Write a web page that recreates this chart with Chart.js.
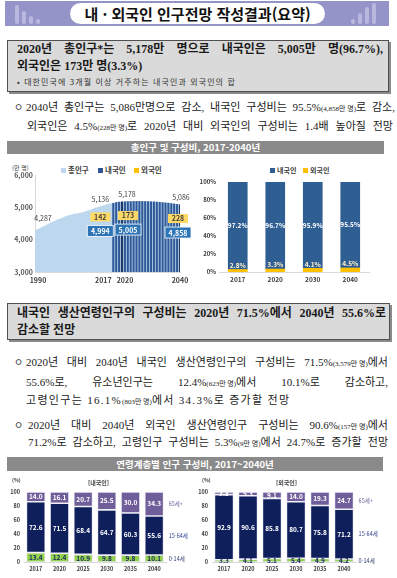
<!DOCTYPE html>
<html lang="ko">
<head>
<meta charset="utf-8">
<script src="https://cdn.jsdelivr.net/npm/chart.js@4"></script>
<style>
  body { margin:0; width:397px; height:578px; position:relative; overflow:hidden; background:#fff;
    font-family:"Liberation Serif","Noto Sans CJK KR",serif; color:#1a1a1a; }
  .abs { position:absolute; }
  .jl { position:absolute; text-align:justify; text-align-last:justify; white-space:normal; }
  .band { left:5px; top:1px; width:384px; height:25px; background:#9494c8; }
  .deco { position:absolute; width:4px; border-radius:2px; background:#b8b8de; bottom:2px; }
  .pill { left:70px; top:3px; width:255px; height:21px; border-radius:11px; background:#fff;
    font:bold 15px "Noto Sans CJK KR"; line-height:21px; text-align:center; color:#111; }
  .box { background:#dadada; border:1px solid #505050; box-shadow:2px 2px 0 #8a8a8a; }
  .bold { font-weight:bold; font-size:12px; line-height:16px; }
  .txt { font-size:11px; line-height:16px; }
  .sm { font-size:7px; display:inline-block; }
  .bul { font:10px "Noto Sans CJK KR"; line-height:16px; color:#333; }
  .hdr { background:#8a8a8a; color:#fff; font:bold 9.5px "Noto Sans CJK KR"; text-align:center; }
  .lg { position:absolute; font:bold 7.5px "Noto Sans CJK KR"; color:#404040; line-height:10px; white-space:nowrap; }
  .lg i { display:inline-block; width:5px; height:5px; margin-right:2px; vertical-align:0; }
  .note { position:absolute; font:bold 6px "Noto Sans CJK KR"; color:#404040; white-space:nowrap; }
  canvas { position:absolute; }
</style>
</head>
<body>
<div class="abs band">
  <div class="deco" style="left:10px;height:19px"></div>
  <div class="deco" style="left:17px;height:13px"></div>
  <div class="deco" style="left:24px;height:8px"></div>
  <div class="deco" style="left:31px;height:5px"></div>
  <div class="deco" style="left:346px;height:5px"></div>
  <div class="deco" style="left:353px;height:11px"></div>
  <div class="deco" style="left:360px;height:17px"></div>
  <div class="deco" style="left:367px;height:21px"></div>
</div>
<div class="abs pill">내 · 외국인 인구전망 작성결과(요약)</div>

<div class="abs box" style="left:7px;top:40px;width:380px;height:50px"></div>
<div class="jl bold" style="left:17px;top:41px;width:366px">2020년 총인구*는 5,178만 명으로 내국인은 5,005만 명(96.7%),</div>
<div class="abs bold" style="left:17px;top:58px">외국인은 173만 명(3.3%)</div>
<div class="abs" style="left:17px;top:77px;font:8px 'Noto Sans CJK KR';line-height:10px;letter-spacing:1.1px;color:#333">• 대한민국에 3개월 이상 거주하는 내국인과 외국인의 합</div>

<div class="abs bul" style="left:14px;top:99px">ㅇ</div>
<div class="jl txt" style="left:26px;top:99px;width:369px">2040년 총인구는 5,086만명으로 감소, 내국인 구성비는 95.5%<span class="sm">(4,858만 명)</span>로 감소,</div>
<div class="jl txt" style="left:27px;top:118px;width:366px">외국인은 4.5%<span class="sm">(228만 명)</span>로 2020년 대비 외국인의 구성비는 1.4배 높아질 전망</div>

<div class="abs hdr" style="left:7px;top:141px;width:377px;height:13px;line-height:13px">총인구 및 구성비, 2017-2040년</div>

<div class="note" style="left:12px;top:163px;font-weight:normal">(만 명)</div>
<div class="lg" style="left:61px;top:165px"><i style="background:#bdd7ee"></i>총인구</div>
<div class="lg" style="left:98px;top:165px"><i style="background:#2f5597"></i>내국인</div>
<div class="lg" style="left:134px;top:165px"><i style="background:#ffc000"></i>외국인</div>
<div class="lg" style="left:270px;top:165px;font-size:7px"><i style="background:#2f5e93"></i>내국인</div>
<div class="lg" style="left:303px;top:165px;font-size:7px"><i style="background:#ffc000"></i>외국인</div>

<canvas id="popChart" width="195" height="125" style="left:0;top:160px"></canvas>
<canvas id="shareChart" width="202" height="125" style="left:195px;top:160px"></canvas>

<div class="abs box" style="left:7px;top:303px;width:381px;height:35px"></div>
<div class="jl bold" style="left:17px;top:305px;width:369px">내국인 생산연령인구의 구성비는 2020년 71.5%에서 2040년 55.6%로</div>
<div class="abs bold" style="left:17px;top:322px">감소할 전망</div>

<div class="abs bul" style="left:14px;top:354px">ㅇ</div>
<div class="jl txt" style="left:26px;top:354px;width:362px">2020년 대비 2040년 내국인 생산연령인구의 구성비는 71.5%<span class="sm">(3,579만 명)</span>에서</div>
<div class="jl txt" style="left:26px;top:374px;width:362px">55.6%로, 유소년인구는 12.4%<span class="sm">(623만 명)</span>에서 10.1%로 감소하고,</div>
<div class="abs txt" style="left:26px;top:392px;letter-spacing:1.3px;white-space:nowrap">고령인구는 16.1%<span class="sm" style="letter-spacing:0">(803만 명)</span>에서 34.3%로 증가할 전망</div>
<div class="abs bul" style="left:14px;top:417px">ㅇ</div>
<div class="jl txt" style="left:28px;top:417px;width:360px">2020년 대비 2040년 외국인 생산연령인구 구성비는 90.6%<span class="sm">(157만 명)</span>에서</div>
<div class="jl txt" style="left:28px;top:434px;width:360px">71.2%로 감소하고, 고령인구 구성비는 5.3%<span class="sm">(9만 명)</span>에서 24.7%로 증가할 전망</div>

<div class="abs hdr" style="left:7px;top:457px;width:376px;height:14px;line-height:14px">연령계층별 인구 구성비, 2017~2040년</div>

<canvas id="korAge" width="197" height="103" style="left:0;top:475px"></canvas>
<canvas id="forAge" width="200" height="103" style="left:197px;top:475px"></canvas>
<div class="note" style="left:12px;top:476px;font-size:5px">(%)</div>
<div class="note" style="left:88px;top:478px">[내국인]</div>
<div class="note" style="left:202px;top:476px;font-size:5px">(%)</div>
<div class="note" style="left:276px;top:478px">[외국인]</div>

<script>
// 총인구 (만 명), 1990~2040
const years = Array.from({ length: 51 }, (_, i) => String(1990 + i));
const totalPop = [4287, 4330, 4375, 4420, 4464, 4509, 4552, 4595, 4629, 4662,
  4701, 4737, 4764, 4789, 4808, 4818, 4837, 4860, 4895, 4918,
  4955, 4994, 5020, 5043, 5075, 5101, 5122, 5136, 5161, 5171,
  5178, 5183, 5187, 5190, 5192, 5193, 5193, 5192, 5190, 5187,
  5183, 5178, 5172, 5165, 5157, 5148, 5138, 5127, 5114, 5101, 5086];
// 내국인 / 외국인, 2017~2040
const barStart = '2017';
const domesticPop = [4994, 5006, 5003, 5005, 5011, 5012, 5010, 5007, 5003, 5000, 4996, 4991,
  4985, 4978, 4971, 4962, 4953, 4943, 4932, 4919, 4906, 4891, 4875, 4858];
const foreignPop = [142, 155, 168, 173, 172, 175, 180, 185, 190, 193, 196, 199,
  202, 205, 207, 210, 212, 214, 216, 219, 221, 223, 226, 228];
const popTickYears = ['1990', '2017', '2020', '2040'];

// 구성비 (%)
const shareYears = ['2017', '2020', '2030', '2040'];
const domesticShare = [97.2, 96.7, 95.9, 95.5];
const foreignShare = [2.8, 3.3, 4.1, 4.5];

// 연령계층별 구성비 (%)
const ageYears = ['2017', '2020', '2025', '2030', '2035', '2040'];
const korChild = [13.4, 12.4, 10.9, 9.8, 9.8, 10.1];
const korWork = [72.6, 71.5, 68.4, 64.7, 60.3, 55.6];
const korOld = [14.0, 16.1, 20.7, 25.5, 30.0, 34.3];
const forChild = [3.3, 4.1, 5.1, 5.4, 4.9, 4.2];
const forWork = [92.9, 90.6, 85.8, 80.7, 75.8, 71.2];
const forOld = [3.8, 5.3, 9.1, 14.0, 19.3, 24.7];
const ageGroups = ['0-14세', '15-64세', '65세+'];

Chart.defaults.font.family = "'Noto Sans CJK KR', 'Noto Sans', sans-serif";
Chart.defaults.animation = false;
Chart.defaults.responsive = false;
Chart.defaults.plugins.legend.display = false;
Chart.defaults.plugins.tooltip.enabled = false;

const pad = new Array(years.indexOf(barStart)).fill(null);
const fmt = v => v.toLocaleString('en-US');

// 총인구 그래프 라벨
const popLabels = {
  id: 'popLabels',
  afterDatasetsDraw(chart) {
    const { ctx, scales: { x, y }, chartArea } = chart;
    ctx.save();
    ctx.textAlign = 'center';
    ctx.textBaseline = 'middle';
    // x축 연도
    ctx.font = "bold 7px 'Noto Sans CJK KR'";
    ctx.fillStyle = '#404040';
    const tickDx = { '1990': 3, '2017': -10, '2020': 3, '2040': 0 };
    popTickYears.forEach(yr => {
      ctx.fillText(yr, x.getPixelForValue(years.indexOf(yr)) + tickDx[yr], chartArea.bottom + 8);
    });
    // 총인구 값
    ctx.font = "7px 'Noto Sans CJK KR'";
    const totDx = { '1990': 8, '2017': -13, '2020': 5, '2040': 1 };
    const totDy = { '1990': -12, '2017': -4, '2020': -7, '2040': -7 };
    popTickYears.forEach(yr => {
      const i = years.indexOf(yr);
      ctx.fillText(fmt(totalPop[i]), x.getPixelForValue(i) + totDx[yr], y.getPixelForValue(totalPop[i]) + totDy[yr]);
    });
    // 내국인/외국인 박스
    const boxDx = { '2017': -13, '2020': 6, '2040': -2 };
    ['2017', '2020', '2040'].forEach(yr => {
      const i = years.indexOf(yr), j = i - pad.length;
      const cx = x.getPixelForValue(i) + boxDx[yr];
      const top = y.getPixelForValue(totalPop[i]);
      ctx.font = "bold 7px 'Noto Sans CJK KR'";
      ctx.fillStyle = '#ffd966';
      ctx.fillRect(cx - 10, top + 9.5, 20, 9);
      ctx.fillStyle = '#404040';
      ctx.fillText(String(foreignPop[j]), cx, top + 14);
      ctx.fillStyle = '#2e75b6';
      ctx.fillRect(cx - 13, top + 22.5, 26, 11);
      ctx.strokeStyle = '#fff';
      ctx.lineWidth = 0.8;
      ctx.strokeRect(cx - 13, top + 22.5, 26, 11);
      ctx.fillStyle = '#fff';
      ctx.fillText(fmt(domesticPop[j]), cx, top + 28.5);
    });
    ctx.restore();
  }
};

new Chart(document.getElementById('popChart'), {
  type: 'bar',
  data: {
    labels: years,
    datasets: [
      { type: 'line', label: '총인구', data: totalPop, fill: 'start', backgroundColor: '#bdd7ee',
        borderWidth: 0, pointRadius: 0, tension: 0.3, order: 3, stack: 'total' },
      { label: '내국인', data: pad.concat(domesticPop), order: 2, stack: 'bar',
        backgroundColor: c => ['2020', '2040'].includes(years[c.index]) ? '#1f3864' : '#2f5a97',
        barPercentage: 0.72, categoryPercentage: 1 },
      { label: '외국인', data: pad.concat(foreignPop), order: 1, stack: 'bar',
        backgroundColor: '#ffc000', barPercentage: 0.72, categoryPercentage: 1 }
    ]
  },
  options: {
    layout: { padding: { top: 15, right: 15, left: 0, bottom: 0 } },
    scales: {
      x: { stacked: true, offset: false, grid: { display: false, drawTicks: false }, ticks: { display: false },
        border: { color: '#d9d9d9' }, afterFit(s) { s.height = 13; } },
      y: { stacked: true, min: 3000, max: 6000, grid: { display: false, drawTicks: false }, border: { color: '#d9d9d9' },
        ticks: { stepSize: 1000, callback: fmt, font: { size: 7, weight: 'bold' }, color: '#595959', padding: 2 },
        afterFit(s) { s.width = 35; } }
    }
  },
  plugins: [popLabels]
});

// 구성비 그래프
const shareLabels = {
  id: 'shareLabels',
  afterDatasetsDraw(chart) {
    const { ctx } = chart;
    ctx.save();
    ctx.textAlign = 'center';
    ctx.textBaseline = 'middle';
    ctx.font = "bold 6.5px 'Noto Sans CJK KR'";
    chart.getDatasetMeta(1).data.forEach((el, i) => {
      ctx.fillStyle = '#fff';
      ctx.fillText(domesticShare[i].toFixed(1) + '%', el.x, (el.y + el.base) / 2);
    });
    chart.getDatasetMeta(0).data.forEach((el, i) => {
      ctx.fillStyle = '#fff2cc';
      ctx.fillText(foreignShare[i].toFixed(1) + '%', el.x, el.y - 4);
    });
    ctx.restore();
  }
};

new Chart(document.getElementById('shareChart'), {
  type: 'bar',
  data: {
    labels: shareYears,
    datasets: [
      { label: '외국인', data: foreignShare, backgroundColor: '#ffc000', barThickness: 19 },
      { label: '내국인', data: domesticShare, backgroundColor: '#2f5e93', barThickness: 19 }
    ]
  },
  options: {
    layout: { padding: { top: 22, right: 28, left: 0, bottom: 0 } },
    scales: {
      x: { stacked: true, grid: { display: false, drawTicks: false }, border: { color: '#d9d9d9' },
        ticks: { font: { size: 6.5, weight: 'bold' }, color: '#404040', padding: 4 },
        afterFit(s) { s.height = 13; } },
      y: { stacked: true, min: 0, max: 100, grid: { display: false, drawTicks: false }, border: { display: false },
        ticks: { stepSize: 20, callback: v => v + '%', font: { size: 6, weight: 'bold' }, color: '#404040', padding: 3 },
        afterFit(s) { s.width = 24; } }
    }
  },
  plugins: [shareLabels]
});

// 연령계층별 그래프
const ageColors = ['#92d050', '#0f1f5c', '#6f5e9a'];
const sideColors = ['#2b3a6e', '#2b3a8a', '#6f5e9a'];
function ageLabels(id) {
  return {
    id: id,
    afterDatasetsDraw(chart) {
      const { ctx } = chart;
      ctx.save();
      ctx.textBaseline = 'middle';
      chart.data.datasets.forEach((ds, d) => {
        const els = chart.getDatasetMeta(d).data;
        ctx.textAlign = 'center';
        ctx.font = "bold 6.5px 'Noto Sans CJK KR'";
        ctx.fillStyle = d === 0 ? '#1a2a5a' : '#fff';
        els.forEach((el, i) => ctx.fillText(ds.data[i].toFixed(1), el.x, (el.y + el.base) / 2));
        const last = els[els.length - 1];
        ctx.textAlign = 'left';
        ctx.font = "5.5px 'Noto Sans CJK KR'";
        ctx.fillStyle = sideColors[d];
        ctx.fillText(ageGroups[d], last.x + last.width / 2 + 5, (last.y + last.base) / 2);
      });
      ctx.restore();
    }
  };
}

function ageChart(id, child, work, old, yWidth, rightPad) {
  return new Chart(document.getElementById(id), {
    type: 'bar',
    data: {
      labels: ageYears,
      datasets: [child, work, old].map((vals, k) => ({
        label: ageGroups[k], data: vals, backgroundColor: ageColors[k],
        borderColor: '#e4e2f0', borderWidth: 0.8, borderSkipped: false,
        barPercentage: 0.8, categoryPercentage: 1
      }))
    },
    options: {
      layout: { padding: { top: 17, right: rightPad, left: 0, bottom: 0 } },
      scales: {
        x: { stacked: true, grid: { display: false, drawTicks: false }, border: { color: '#d9d9d9' },
          ticks: { font: { size: 5.5, weight: 'bold' }, color: '#404040', padding: 4 },
          afterFit(s) { s.height = 16; } },
        y: { stacked: true, min: 0, max: 100, grid: { display: false, drawTicks: false }, border: { display: false },
          ticks: { stepSize: 20, font: { size: 5.5, weight: 'bold' }, color: '#404040', padding: 4 },
          afterFit(s) { s.width = yWidth; } }
      }
    },
    plugins: [ageLabels(id + 'Labels')]
  });
}

ageChart('korAge', korChild, korWork, korOld, 24, 31);
ageChart('forAge', forChild, forWork, forOld, 15, 41);
</script>
</body>
</html>
